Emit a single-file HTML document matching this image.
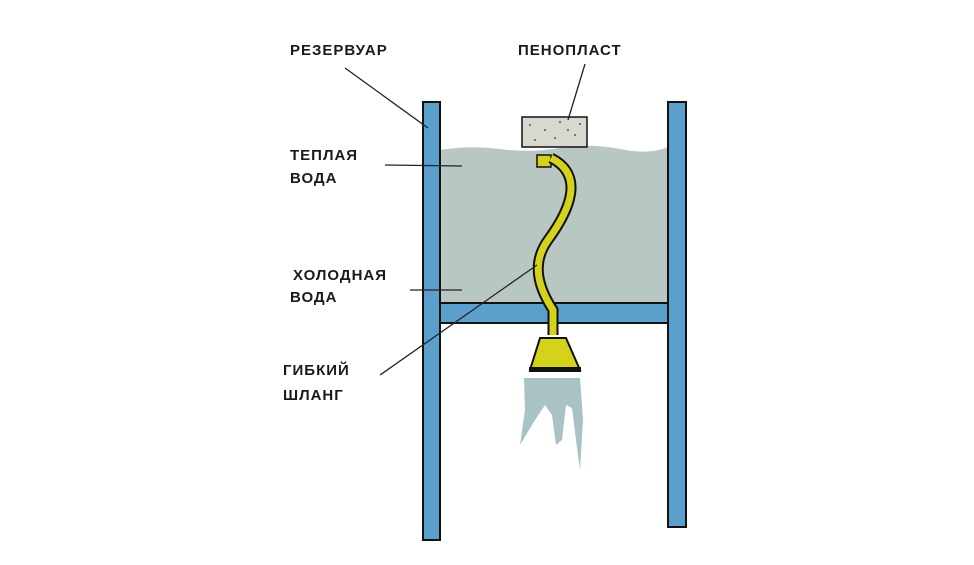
<!DOCTYPE html>
<html><head><meta charset="utf-8"><style>
html,body{margin:0;padding:0;background:#fff;width:974px;height:565px;overflow:hidden}
svg text{font-family:"Liberation Sans","DejaVu Sans",sans-serif;font-weight:bold;font-size:15px;fill:#1a1a1a;letter-spacing:1px}
</style></head><body>
<svg width="974" height="565" viewBox="0 0 974 565" xmlns="http://www.w3.org/2000/svg">
<path d="M440 150 Q470 145 500 149 T560 148 T620 149 T668 147 L668 303 L440 303 Z" fill="#b9c7c3"/>
<g fill="#5b9fcc" stroke="#111" stroke-width="2">
<rect x="423" y="102" width="17" height="438"/>
<rect x="668" y="102" width="18" height="425"/>
<rect x="440" y="303" width="228" height="20"/>
</g>
<rect x="522" y="117" width="65" height="30" fill="#d8d8d0" stroke="#111" stroke-width="1.5"/>
<g fill="#555"><circle cx="530" cy="125" r="1"/><circle cx="545" cy="130" r="1"/><circle cx="560" cy="122" r="1"/><circle cx="575" cy="135" r="1"/><circle cx="535" cy="140" r="1"/><circle cx="555" cy="138" r="1"/><circle cx="580" cy="124" r="1"/><circle cx="568" cy="130" r="1"/></g>
<rect x="537" y="155" width="14" height="12" fill="#d4d21a" stroke="#111" stroke-width="1.5"/>
<path d="M551 158 C585 175 570 210 548 240 C530 265 540 290 553 310 L553 335" fill="none" stroke="#111" stroke-width="11"/>
<path d="M551 158 C585 175 570 210 548 240 C530 265 540 290 553 310 L553 335" fill="none" stroke="#d4d21a" stroke-width="7"/>
<path d="M540 338 L566 338 L580 370 L530 370 Z" fill="#d4d21a" stroke="#111" stroke-width="2"/>
<rect x="529" y="367" width="52" height="5" fill="#111"/>
<path d="M524 378 L580 378 L583 420 L580 470 L576 440 L572 408 L566 405 L562 440 L556 445 L552 415 L545 405 L535 420 L520 445 L525 410 Z" fill="#a9c2c3"/>
<g stroke="#222" stroke-width="1.3" fill="none">
<line x1="345" y1="68" x2="428" y2="128"/>
<line x1="585" y1="64" x2="568" y2="120"/>
<line x1="385" y1="165" x2="462" y2="166"/>
<line x1="410" y1="290" x2="462" y2="290"/>
<line x1="380" y1="375" x2="537" y2="265"/>
</g>
<text x="290" y="55">РЕЗЕРВУАР</text>
<text x="518" y="55">ПЕНОПЛАСТ</text>
<text x="290" y="160">ТЕПЛАЯ</text>
<text x="290" y="183">ВОДА</text>
<text x="293" y="280">ХОЛОДНАЯ</text>
<text x="290" y="302">ВОДА</text>
<text x="283" y="375">ГИБКИЙ</text>
<text x="283" y="400">ШЛАНГ</text>
</svg>
</body></html>
